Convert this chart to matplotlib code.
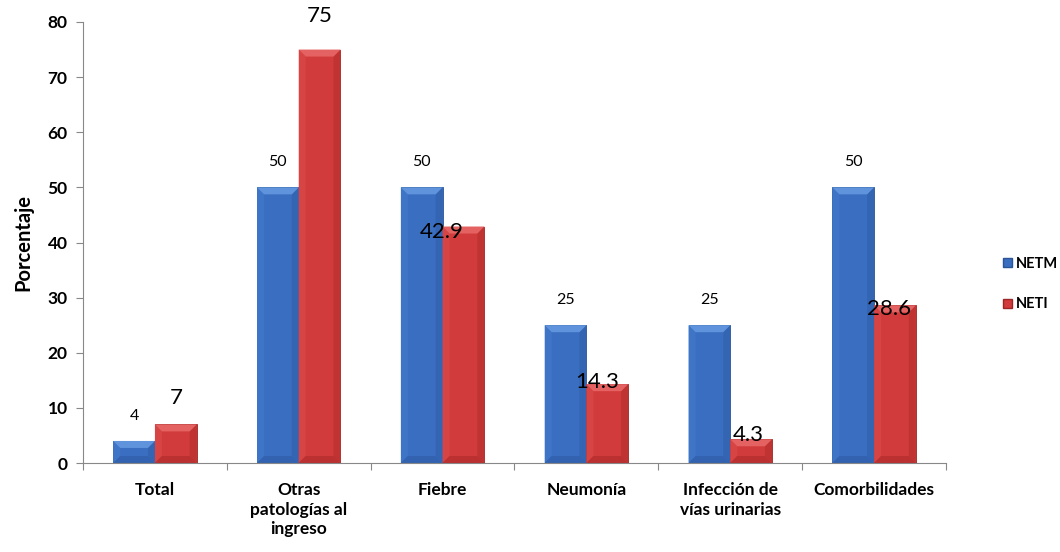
import matplotlib
matplotlib.use("Agg")
import matplotlib.pyplot as plt
from matplotlib.patches import Polygon, Rectangle
from matplotlib.transforms import IdentityTransform
import numpy as np

categories = ["Total", "Otras\npatologías al\ningreso", "Fiebre", "Neumonía",
              "Infección de\nvías urinarias", "Comorbilidades"]
netm = [4, 50, 50, 25, 25, 50]
neti = [7, 75, 42.9, 14.3, 4.3, 28.6]
neti_text = ["7", "75", "42.9", "14.3", "4.3", "28.6"]
netm_text = ["4", "50", "50", "25", "25", "50"]

# hand-placed NETI label offsets (x in category units, y in data units relative to bar top)
neti_dx = [0.0, 0.0, -0.15, -0.07, -0.02, -0.04]
neti_dy = [4.8, 6.1, -1.0, 0.4, 0.8, -0.7]

plt.rcParams['font.family'] = ['Lato', 'DejaVu Sans']

fig = plt.figure(figsize=(10.6, 5.52), dpi=100)
ax = fig.add_axes([83 / 1060, (552 - 463) / 552, (946 - 83) / 1060, (463 - 22) / 552])

x = np.arange(len(categories))
w = 0.29
blue = "#3A6EC0"
red = "#D23B3B"
b1 = ax.bar(x - w / 2, netm, w, color=blue, edgecolor="#2A5494", linewidth=0.6, zorder=2)
b2 = ax.bar(x + w / 2, neti, w, color=red, edgecolor="#9C2626", linewidth=0.6, zorder=2)

ax.set_xlim(-0.5, len(categories) - 0.5)
ax.set_ylim(0, 80)
ax.set_yticks(range(0, 81, 10))
ax.set_xticks(np.arange(-0.5, len(categories), 1.0), minor=False)
ax.set_xticklabels([])
ax.set_xticks(x, minor=True)
ax.set_xticklabels(categories, minor=True, fontsize=12.5, fontweight="bold", linespacing=1.25)
ax.tick_params(axis="x", which="minor", length=0, pad=14)
ax.tick_params(axis="x", which="major", length=5, color="#888888", direction="out")
ax.tick_params(axis="y", length=5, color="#888888", labelsize=12.5, pad=6)
for t in ax.get_yticklabels():
    t.set_fontweight("bold")
for s in ["top", "right"]:
    ax.spines[s].set_visible(False)
for s in ["left", "bottom"]:
    ax.spines[s].set_color("#888888")
ax.set_ylabel("Porcentaje", fontsize=14.5, fontweight="bold", labelpad=10)

# bevel highlights on each bar, built from the bar geometry in pixel space
fig.canvas.draw()
ident = IdentityTransform()
def bevel(rect, top_c, left_c, right_c, bot_c, d=7):
    x0, y0 = rect.get_x(), rect.get_y()
    x1, y1 = x0 + rect.get_width(), y0 + rect.get_height()
    (px0, py0), (px1, py1) = ax.transData.transform([(x0, y0), (x1, y1)])
    dd = min(d, (py1 - py0) / 2.2, (px1 - px0) / 2.2)
    polys = [
        ([(px0, py0), (px0, py1), (px0 + dd, py1 - dd), (px0 + dd, py0 + dd)], left_c),
        ([(px1, py0), (px1, py1), (px1 - dd, py1 - dd), (px1 - dd, py0 + dd)], right_c),
        ([(px0, py0), (px1, py0), (px1 - dd, py0 + dd), (px0 + dd, py0 + dd)], bot_c),
        ([(px0, py1), (px1, py1), (px1 - dd, py1 - dd), (px0 + dd, py1 - dd)], top_c),
    ]
    for pts, c in polys:
        p = Polygon(pts, closed=True, facecolor=c, edgecolor="none", zorder=2.5)
        p.set_transform(ident)
        ax.add_artist(p)

for r in b1:
    bevel(r, "#5F93DC", "#3F75C7", "#3465B3", "#3363B0")
for r in b2:
    bevel(r, "#E46262", "#D64444", "#C03333", "#BB3030")

for i, (v, t) in enumerate(zip(netm, netm_text)):
    ax.annotate(t, (x[i] - w / 2, v), xytext=(0, 13), textcoords="offset points",
                ha="center", va="bottom", fontsize=11.5, zorder=5)
for i, (v, t) in enumerate(zip(neti, neti_text)):
    ax.text(x[i] + w / 2 + neti_dx[i], v + neti_dy[i], t, ha="center", va="center",
            fontsize=16, zorder=5)

# legend
handles = [Rectangle((0, 0), 1, 1, facecolor=blue, edgecolor="#2A5494"),
           Rectangle((0, 0), 1, 1, facecolor=red, edgecolor="#9C2626")]
fig.legend(handles, ["NETM", "NETI"], loc="center left",
           bbox_to_anchor=(1003 / 1060, 1 - 284 / 552),
           frameon=False, handlelength=0.6, handleheight=0.6, handletextpad=0.25,
           labelspacing=1.85, borderpad=0, borderaxespad=0,
           prop={"weight": "bold", "size": 10.5})

fig.savefig("out.png", dpi=100)
